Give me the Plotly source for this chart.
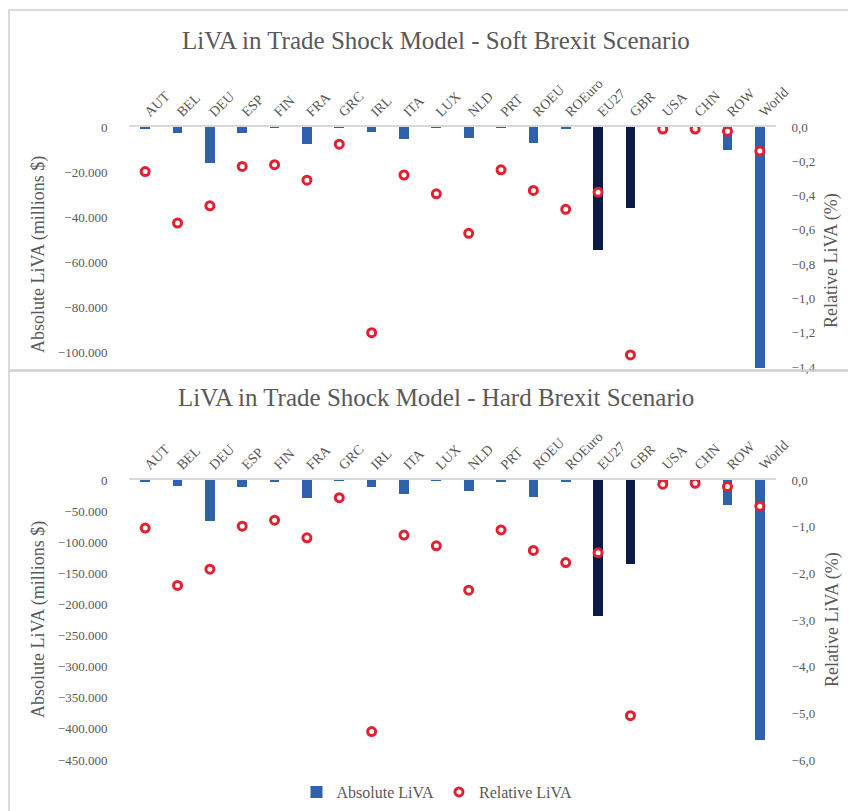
import plotly.graph_objects as go

# page body adds an 8px margin, so the figure is drawn that much smaller and every
# pixel position below is measured on the full 856x811 window
OFF = 8
W, H = 856 - OFF, 811 - OFF

regions = ["AUT", "BEL", "DEU", "ESP", "FIN", "FRA", "GRC", "IRL", "ITA", "LUX",
           "NLD", "PRT", "ROEU", "ROEuro", "EU27", "GBR", "USA", "CHN", "ROW", "World"]

# soft brexit scenario
soft_abs = [-700, -2500, -16100, -2800, -200, -7700, -200, -2300, -5300, -300,
            -5000, -300, -7000, -800, -54600, -35800, -1000, -500, -10200, -118000]
soft_rel = [-0.26, -0.56, -0.46, -0.23, -0.22, -0.31, -0.10, -1.20, -0.28, -0.39,
            -0.62, -0.25, -0.37, -0.48, -0.38, -1.33, -0.012, -0.012, -0.025, -0.14]

# hard brexit scenario
hard_abs = [-2000, -10000, -65600, -10800, -2500, -29500, -1000, -11800, -22600, -1500,
            -17700, -2000, -27900, -4000, -218700, -135400, -3000, -2000, -40300, -417500]
hard_rel = [-1.03, -2.26, -1.91, -0.99, -0.86, -1.24, -0.38, -5.39, -1.18, -1.41,
            -2.36, -1.07, -1.51, -1.77, -1.56, -5.05, -0.09, -0.07, -0.14, -0.56]

BLUE = "#2F62AA"
NAVY = "#0C1A45"
RED = "#E3202F"
GREY = "#595959"
FONT = "Liberation Serif"

bar_colors = [NAVY if r in ("EU27", "GBR") else BLUE for r in regions]


def px_x(p):
    return (p - OFF) / W


def px_y(p):
    return 1 - (p - OFF) / H


fig = go.Figure()

panels = [
    dict(abs=soft_abs, rel=soft_rel, x="x", y="y", y2="y2", legend=True),
    dict(abs=hard_abs, rel=hard_rel, x="x2", y="y3", y2="y4", legend=False),
]
for p in panels:
    fig.add_trace(go.Bar(
        x=regions, y=p["abs"], name="Absolute LiVA",
        marker=dict(color=bar_colors, line=dict(width=0)), width=0.3,
        xaxis=p["x"], yaxis=p["y"], showlegend=p["legend"],
    ))
    fig.add_trace(go.Scatter(
        x=regions, y=p["rel"], name="Relative LiVA", mode="markers",
        marker=dict(symbol="circle", size=8, color="white",
                    line=dict(color=RED, width=3)),
        xaxis=p["x"], yaxis=p["y2"], showlegend=p["legend"],
    ))

xdom = [px_x(129), px_x(776)]
xcommon = dict(domain=xdom, side="top", tickangle=-45, showline=True,
               range=[-0.5, len(regions) - 0.5],
               linecolor="#D9D9D9", linewidth=1.5, showgrid=False, zeroline=False,
               ticks="", automargin=False,
               tickfont=dict(family=FONT, size=14, color=GREY))
ycommon = dict(showgrid=False, zeroline=False, showline=False, ticks="outside",
               tickcolor="rgba(0,0,0,0)", automargin=False,
               tickfont=dict(family=FONT, size=13, color=GREY))

fig.update_layout(
    template="none",
    width=W, height=H,
    margin=dict(l=0, r=0, t=0, b=0),
    paper_bgcolor="white", plot_bgcolor="white",
    separators=",.",
    bargap=0,
    xaxis=dict(anchor="y", **xcommon),
    yaxis=dict(domain=[px_y(368), px_y(127)], range=[-106800, 0],
               tickvals=[0, -20000, -40000, -60000, -80000, -100000],
               tickformat=",d", anchor="x", ticklen=18, **ycommon),
    yaxis2=dict(overlaying="y", side="right", anchor="x", range=[-1.406, 0],
                dtick=0.2, tickformat=".1f", ticklen=12, **ycommon),
    xaxis2=dict(anchor="y3", **xcommon),
    yaxis3=dict(domain=[px_y(760), px_y(480)], range=[-450000, 0],
                dtick=50000, tickformat=",d", anchor="x2", ticklen=18, **ycommon),
    yaxis4=dict(overlaying="y3", side="right", anchor="x2", range=[-6, 0],
                dtick=1, tickformat=".1f", ticklen=12, **ycommon),
    legend=dict(orientation="h", x=px_x(437), xanchor="center", y=px_y(792),
                yanchor="middle", font=dict(family=FONT, size=16, color=GREY),
                itemwidth=30, traceorder="normal", bgcolor="rgba(0,0,0,0)"),
    showlegend=True,
)

# panel frames
fig.add_shape(type="rect", xref="paper", yref="paper",
              x0=px_x(9), x1=px_x(870), y0=px_y(370), y1=px_y(10),
              line=dict(color="#D0D0D0", width=1.5))
fig.add_shape(type="rect", xref="paper", yref="paper",
              x0=px_x(9), x1=px_x(870), y0=px_y(830), y1=px_y(371),
              line=dict(color="#D0D0D0", width=1.5))

titles = [("LiVA in Trade Shock Model - Soft Brexit Scenario", 40),
          ("LiVA in Trade Shock Model - Hard Brexit Scenario", 398)]
for text, yy in titles:
    fig.add_annotation(text=text, xref="paper", yref="paper", x=px_x(436), y=px_y(yy),
                       showarrow=False, xanchor="center", yanchor="middle",
                       font=dict(family=FONT, size=25, color=GREY))

axis_titles = [("Absolute LiVA (millions $)", 38, 255), ("Relative LiVA (%)", 832, 261),
               ("Absolute LiVA (millions $)", 38, 620), ("Relative LiVA (%)", 832, 620)]
for text, xx, yy in axis_titles:
    fig.add_annotation(text=text, xref="paper", yref="paper", x=px_x(xx), y=px_y(yy),
                       showarrow=False, textangle=-90, xanchor="center", yanchor="middle",
                       font=dict(family=FONT, size=18, color=GREY))

fig.write_html("out.html")
